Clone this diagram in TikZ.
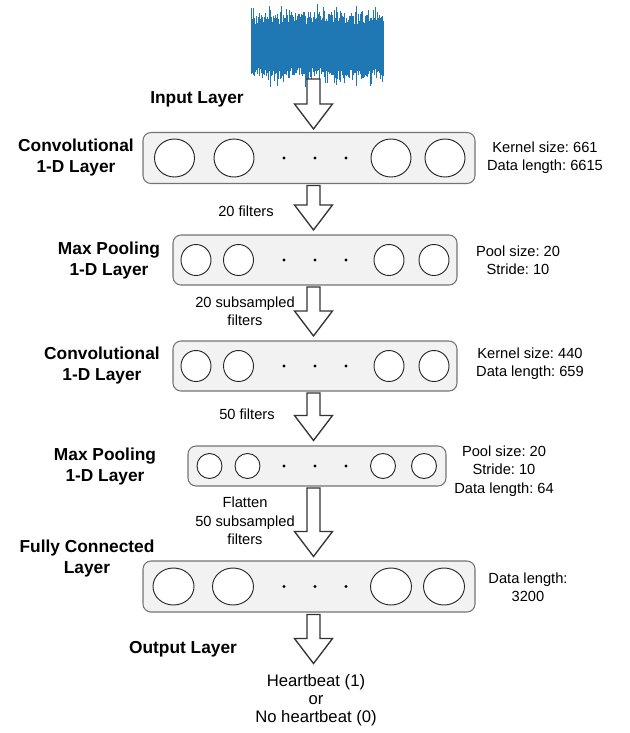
\documentclass[tikz,border=0pt]{standalone}
\usepackage{fontspec}
\setmainfont{Liberation Sans}
\usetikzlibrary{shapes.geometric,calc}
\definecolor{wavecol}{RGB}{31,119,180}
\frenchspacing
\tikzset{
 layerbox/.style={draw=black!55, fill=black!5, rounded corners=6pt, line width=0.8pt, inner sep=0pt},
 unit/.style={ellipse, draw=black!85, fill=white, line width=0.7pt, inner sep=0pt},
 dotmark/.style={circle, fill=black, inner sep=0pt, minimum size=2.4pt},
 lbl/.style={font=\bfseries\fontsize{13}{15.75}\selectfont, align=center},
 info/.style={font=\fontsize{11}{13.75}\selectfont, align=center},
 outtxt/.style={font=\fontsize{12.5}{13.5}\selectfont, align=center},
 blockarr/.style={draw=black!80, fill=white, line width=1pt, line join=miter},
 wave/.style={draw=wavecol, line width=0.4pt}
}
\newcommand\blockarrow[2]{%
  \draw[blockarr] let \p1=(#1), \p2=(#2) in
    (\x1-4.9pt,\y1) -- (\x1+4.9pt,\y1) -- (\x1+4.9pt,\y2+18.75pt) -- (\x1+14.25pt,\y2+18.75pt)
    -- (\x1,\y2) -- (\x1-14.25pt,\y2+18.75pt) -- (\x1-4.9pt,\y2+18.75pt) -- cycle;
}
\newcommand\layerunits[5]{% box name, y, rx, ry, x-list
  \foreach \cx [count=\k] in {#5} {
    \node[unit, minimum width=2*#3*0.75pt, minimum height=2*#4*0.75pt] (#1u\k) at (\cx,#2) {};
  }
  \foreach \dx [count=\k] in {284,315,346} {
    \node[dotmark] (#1d\k) at (\dx,#2) {};
  }
}
\begin{document}
\begin{tikzpicture}[x=0.75pt,y=-0.75pt]
\useasboundingbox (0,0) rectangle (630,733);
% waveform
\pgfmathsetseed{11}
\fill[wavecol] (251,25) rectangle (383,68);
\foreach \i in {0,...,220} {
  \pgfmathsetmacro\xx{251+\i*0.6}
  \pgfmathsetmacro\ra{rnd}
  \pgfmathsetmacro\rb{rnd}
  \pgfmathsetmacro\rc{rnd}
  \pgfmathsetmacro\rd{rnd}
  \pgfmathsetmacro\up{21+9*\ra+13*\rb*\rb*\rb}
  \pgfmathsetmacro\dn{21+9*\rc+13*\rd*\rd*\rd}
  \draw[wave] (\xx,46-\up) -- (\xx,46+\dn);
}
\coordinate (axis) at (313.5,0);
\coordinate (wavebot) at (313.5,79);

% boxes
\node[layerbox, minimum width=332*0.75pt, minimum height=51*0.75pt] (box1) at (309,158) {};
\node[layerbox, minimum width=284*0.75pt, minimum height=50*0.75pt] (box2) at (315,260) {};
\node[layerbox, minimum width=284*0.75pt, minimum height=50*0.75pt] (box3) at (315,366) {};
\node[layerbox, minimum width=258*0.75pt, minimum height=40*0.75pt] (box4) at (317,466) {};
\node[layerbox, minimum width=332*0.75pt, minimum height=51*0.75pt] (fc) at (309,586.5) {};

\layerunits{box1}{158}{20}{19}{174.5,234,391,445}
\layerunits{box2}{260}{15}{15.5}{196,238.5,389,434}
\layerunits{box3}{366}{15}{15.5}{196,238.5,389,434}
\layerunits{box4}{466}{12.5}{12.5}{209.5,247.5,383,424}
\layerunits{fc}{586.5}{20.5}{18.5}{173.5,233,391,444}

% texts
\node[lbl] (tin) at (197,99) {Input Layer};
\node[lbl] (t1) at (76,157.5) {Convolutional\\1-D Layer};
\node[info] (r1) at (545,157.5) {Kernel size: 661\\Data length: 6615};
\node[info] (a2) at (246,211) {20 filters};
\node[lbl] (t2) at (109,260.5) {Max Pooling\\1-D Layer};
\node[info] (r2) at (518,260) {Pool size: 20\\Stride: 10};
\node[info] (a3) at (245,311) {20 subsampled\\filters};
\node[lbl] (t3) at (102,365.5) {Convolutional\\1-D Layer};
\node[info] (r3) at (530,364) {Kernel size: 440\\Data length: 659};
\node[info] (a4) at (247,414) {50 filters};
\node[lbl] (t4) at (105,466.5) {Max Pooling\\1-D Layer};
\node[info] (r4) at (504,471) {Pool size: 20\\Stride: 10\\Data length: 64};
\node[info] (a5) at (245,521) {Flatten\\50 subsampled\\filters};
\node[lbl] (t5) at (87,558.5) {Fully Connected\\Layer};
\node[info] (r5) at (528,587.5) {Data length:\\3200};
\node[lbl] (t6) at (183,649) {Output Layer};
\node[outtxt] (out) at (316,700) {Heartbeat (1)\\or\\No heartbeat (0)};

% arrows
\coordinate (a1tip) at ($(box1.north -| axis)+(0,-3)$);
\blockarrow{wavebot}{a1tip}
\coordinate (b1s) at ($(box1.south -| axis)+(0,1.5)$);
\coordinate (b2n) at ($(box2.north -| axis)+(0,-4.5)$);
\blockarrow{b1s}{b2n}
\coordinate (b2s) at ($(box2.south -| axis)+(0,1.5)$);
\coordinate (b3n) at ($(box3.north -| axis)+(0,-4.5)$);
\blockarrow{b2s}{b3n}
\coordinate (b3s) at ($(box3.south -| axis)+(0,1.5)$);
\coordinate (b4n) at ($(box4.north -| axis)+(0,-5)$);
\blockarrow{b3s}{b4n}
\coordinate (b4s) at ($(box4.south -| axis)+(0,1.5)$);
\coordinate (fcn) at ($(fc.north -| axis)+(0,-4)$);
\blockarrow{b4s}{fcn}
\coordinate (fcs) at ($(fc.south -| axis)+(0,2)$);
\coordinate (outn) at ($(out.north -| axis)+(0,-6)$);
\blockarrow{fcs}{outn}
\end{tikzpicture}
\end{document}
